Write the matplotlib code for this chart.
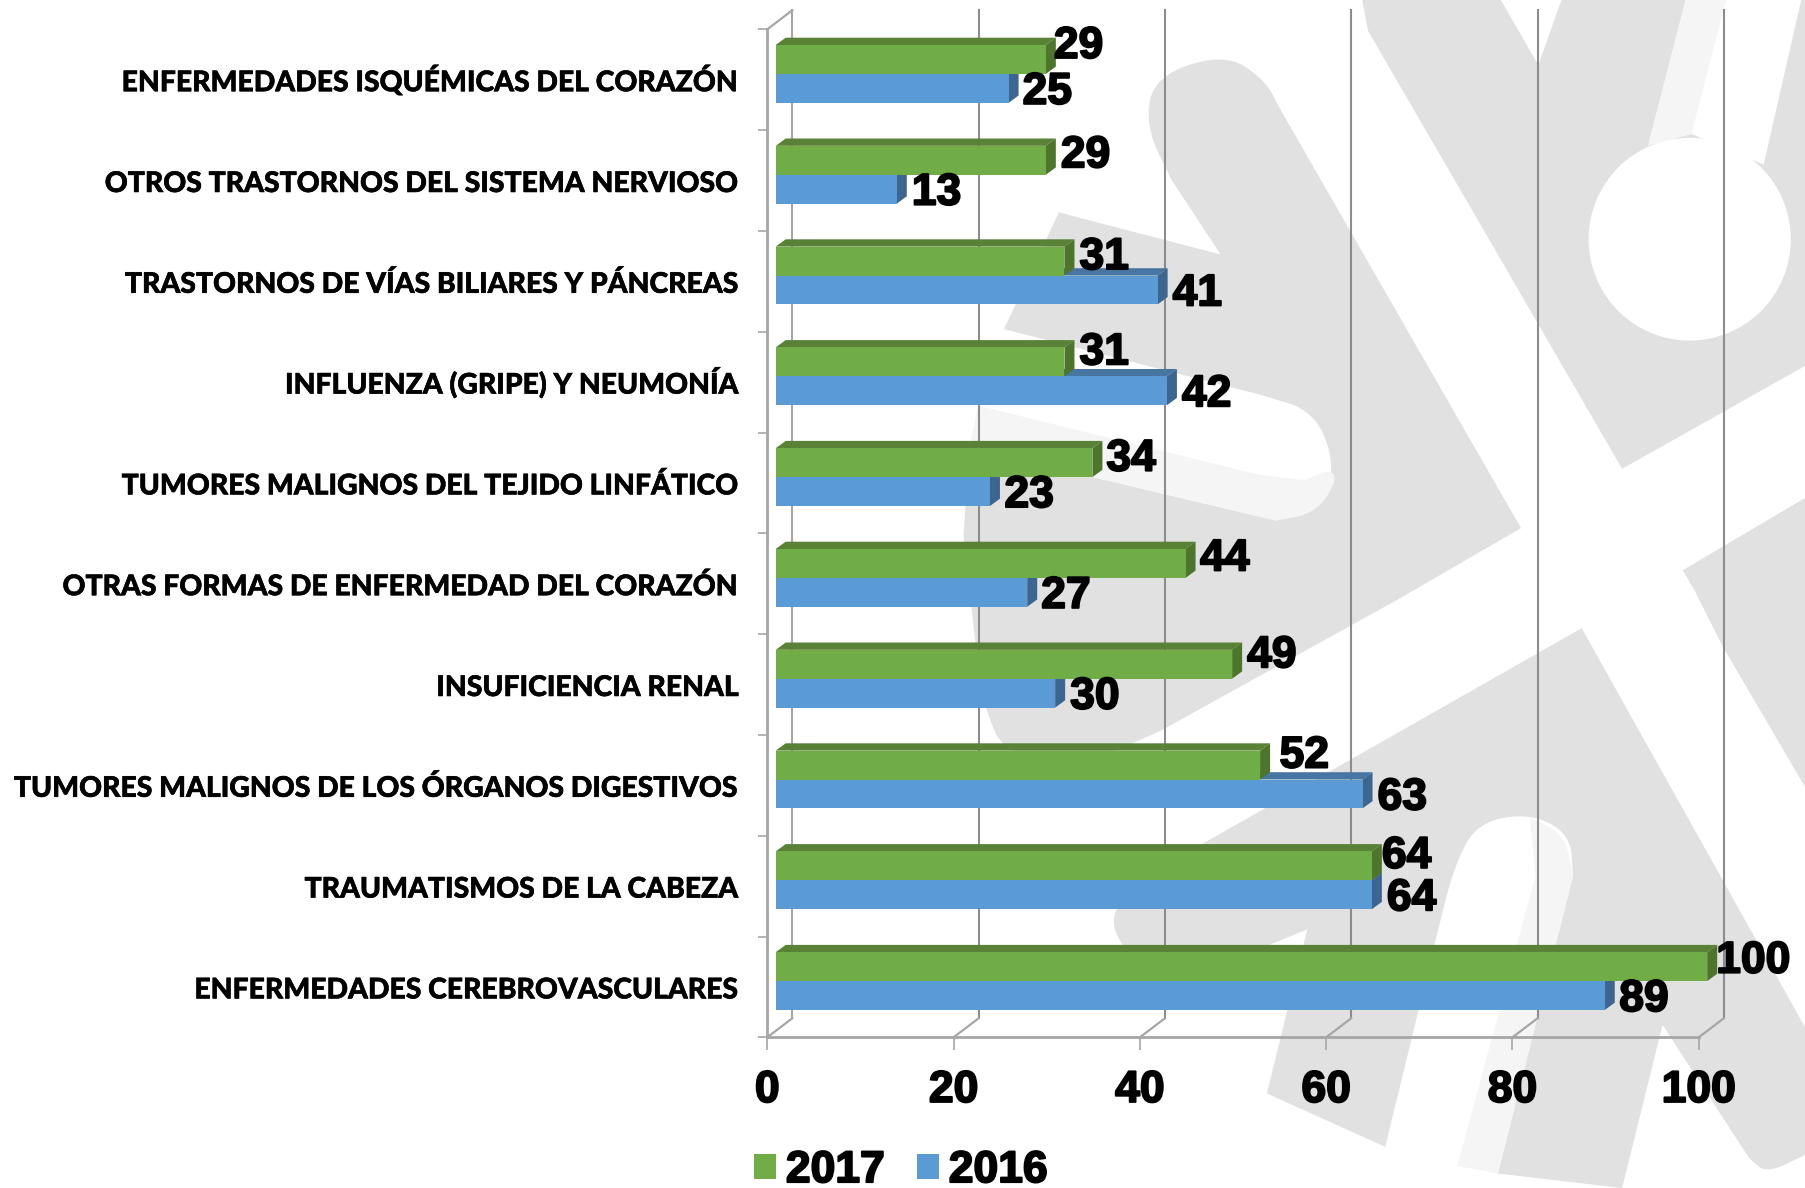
import matplotlib
matplotlib.use("Agg")
import matplotlib.pyplot as plt
import matplotlib.patheffects as pe
from matplotlib.patches import Polygon, Ellipse, Patch

# ---------- data ----------
categories = [
    "ENFERMEDADES ISQUÉMICAS DEL CORAZÓN",
    "OTROS TRASTORNOS DEL SISTEMA NERVIOSO",
    "TRASTORNOS DE VÍAS BILIARES Y PÁNCREAS",
    "INFLUENZA (GRIPE) Y NEUMONÍA",
    "TUMORES MALIGNOS DEL TEJIDO LINFÁTICO",
    "OTRAS FORMAS DE ENFERMEDAD DEL CORAZÓN",
    "INSUFICIENCIA RENAL",
    "TUMORES MALIGNOS DE LOS ÓRGANOS DIGESTIVOS",
    "TRAUMATISMOS DE LA CABEZA",
    "ENFERMEDADES CEREBROVASCULARES",
]
values_2017 = [29, 29, 31, 31, 34, 44, 49, 52, 64, 100]
values_2016 = [25, 13, 41, 42, 23, 27, 30, 63, 64, 89]
x_ticks = [0, 20, 40, 60, 80, 100]

# label nudges in pixels, from the bar end
dx_2017 = [8, 15, 15, 15, 14, 14.5, 15, 19.5, 10, 9]
dy_2017 = [-13, -4.5, -3.5, -9, -3.5, -4.5, -8.5, -9, -9.5, -5.5]
dx_2016 = [14, 15, 15, 15, 14.5, 14, 15, 15, 15, 14.5]
dy_2016 = [4] * 10

# ---------- style ----------
W, H = 1806, 1188
GREEN, GREEN_TOP, GREEN_SIDE = "#70AD47", "#5A8236", "#4E752C"
BLUE, BLUE_TOP, BLUE_SIDE = "#5B9BD5", "#4776A3", "#3C668F"
GRID, WALL = "#8C8C8C", "#A6A6A6"
WM, WM_LIGHT = "#E1E1E1", "#F5F5F5"

HEAVY = "Liberation Sans"
STROKE = [pe.withStroke(linewidth=1.4, foreground="black")]
NUM = dict(family=HEAVY, fontweight="bold", fontsize=32, color="black", path_effects=STROKE)

fig = plt.figure(figsize=(W / 100, H / 100), dpi=100, facecolor="white")

# ---------- background watermark, in pixel space ----------
bg = fig.add_axes([0, 0, 1, 1], zorder=0)
bg.set_xlim(0, W); bg.set_ylim(H, 0); bg.axis("off")

def a(pts):
    return [(900 + x * 0.5777, y * 0.3827) for x, y in pts]
def b(pts):
    return [(900 + x * 0.5777, 590 + y * 0.3814) for x, y in pts]
def smooth(pts, n=3):
    for _ in range(n):
        out = [pts[0]]
        for p, q in zip(pts[:-1], pts[1:]):
            out.append((0.75 * p[0] + 0.25 * q[0], 0.75 * p[1] + 0.25 * q[1]))
            out.append((0.25 * p[0] + 0.75 * q[0], 0.25 * p[1] + 0.75 * q[1]))
        out.append(pts[-1])
        pts = out
    return pts
def poly(pts, c):
    bg.add_patch(Polygon(pts, closed=True, facecolor=c, edgecolor="none"))

poly(a([(555, 665)]) +
     smooth(a([(470, 470), (425, 330), (440, 200), (560, 140), (630, 205), (660, 290)])) +
     a([(1075, 1380), (860, 1568)]) +
     smooth(b([(450, 370), (300, 470), (180, 430), (145, 300), (135, 200)])) +
     a([(110, 1400), (120, 1170), (180, 860), (275, 555)]), WM)
white_bar = smooth(a([(620, 1030), (720, 1075), (755, 1230), (720, 1340), (650, 1360)]))
poly(a([(180, 860)]) + white_bar + a([(120, 1170), (60, 1050)]), "white")
poly(a([(135, 1060), (620, 1240)]) + smooth(a([(700, 1255), (748, 1225), (755, 1260), (720, 1340), (650, 1360)])) +
     a([(120, 1170)]), WM_LIGHT)

poly(a([(800, 0), (1040, 0), (1105, 170), (1145, 0), (1360, 0), (1295, 380), (1370, 350), (1495, 430),
        (1560, 0), (1568, 0), (1568, 955), (1250, 1225), (810, 80)]), WM)
poly(a([(1360, 0), (1430, 0), (1370, 350), (1295, 380)]), WM_LIGHT)
cx, cy = a([(1367, 625)])[0]
bg.add_patch(Ellipse((cx, cy), 350 * 0.5777, 530 * 0.3827, facecolor="white", edgecolor="none"))

poly(a([(1355, 1490), (1568, 1300)]) + b([(1568, 520), (1425, 150), (1375, 0)]), WM)
poly(b([(1180, 100), (530, 660)]) + smooth(b([(410, 770), (360, 860), (395, 960), (440, 1000)])) +
     b([(640, 930), (705, 890), (635, 1320), (840, 1460)]) +
     smooth(b([(930, 900), (960, 720), (1000, 610), (1090, 585), (1160, 640), (1165, 750)])) +
     b([(1035, 1530), (1250, 1568), (1320, 1140)]) +
     smooth(b([(1470, 1490), (1500, 1530), (1568, 1480)])) +
     b([(1568, 1150)]), WM)
poly(smooth(b([(1090, 597), (1150, 640), (1165, 750)])) + b([(1035, 1530), (965, 1510), (1100, 750)]), WM_LIGHT)

# ---------- chart axes ----------
X0, PX_UNIT, Y_TOP, PX_CAT = 767.3, 9.315, 29.3, 100.8
ax = fig.add_axes([X0 / W, 1 - (Y_TOP + 10 * PX_CAT) / H, 100 * PX_UNIT / W, 10 * PX_CAT / H], zorder=1)
ax.patch.set_alpha(0)
ax.set_xlim(0, 100)
ax.set_ylim(10, 0)

back_dx, back_dy = 25 / PX_UNIT, 19 / PX_CAT
bar_dx, bar_dy = 10 / PX_UNIT, 7.3 / PX_CAT
bar_x0 = 8.4 / PX_UNIT
bar_h = 28.9 / PX_CAT
green_top_y = 15.7 / PX_CAT

# walls and grid
for t in x_ticks:
    col = WALL if t == 0 else GRID
    ax.plot([t + back_dx] * 2, [-back_dy, 10 - back_dy], color=col, lw=1.5, zorder=1, clip_on=False)
    ax.plot([t, t + back_dx], [10, 10 - back_dy], color=WALL, lw=1.6, zorder=1, clip_on=False)
ax.plot([0, back_dx], [0, -back_dy], color=WALL, lw=1.6, zorder=1, clip_on=False)

for s in ("top", "right"):
    ax.spines[s].set_visible(False)
for s in ("left", "bottom"):
    ax.spines[s].set_color(WALL)
    ax.spines[s].set_linewidth(2)
    ax.spines[s].set_zorder(1.5)

ax.set_xticks(x_ticks)
ax.set_xticklabels([str(t) for t in x_ticks], **NUM)
ax.tick_params(axis="x", length=9, width=1.2, color=WALL, pad=14.5)
ax.set_yticks(range(11))
ax.set_yticklabels([])
ax.tick_params(axis="y", which="major", length=6.5, width=1.2, color=WALL)
ax.set_yticks([i + 0.5 + 11.5 / PX_CAT for i in range(10)], minor=True)
ax.set_yticklabels(categories, minor=True, family="Lato", fontweight="black", fontsize=20.4, color="black",
                   va="baseline", path_effects=[pe.withStroke(linewidth=0.4, foreground="black")])
ax.tick_params(axis="y", which="minor", length=0, pad=20.9)

def bar3d(y, vals, front, top, side, z):
    ax.barh(y, vals, height=bar_h, left=bar_x0, align="edge", color=front, zorder=z + 0.2, linewidth=0, clip_on=False)
    for yi, v in zip(y, vals):
        x1 = bar_x0 + v
        ax.add_patch(Polygon([(bar_x0, yi), (bar_x0 + bar_dx, yi - bar_dy), (x1 + bar_dx, yi - bar_dy), (x1, yi)],
                             closed=True, facecolor=top, edgecolor="none", zorder=z, clip_on=False))
        ax.add_patch(Polygon([(x1, yi), (x1 + bar_dx, yi - bar_dy), (x1 + bar_dx, yi + bar_h - bar_dy), (x1, yi + bar_h)],
                             closed=True, facecolor=side, edgecolor="none", zorder=z, clip_on=False))

ys_2017 = [i + green_top_y for i in range(10)]
ys_2016 = [y + bar_h for y in ys_2017]
bar3d(ys_2016, values_2016, BLUE, BLUE_TOP, BLUE_SIDE, 2)
bar3d(ys_2017, values_2017, GREEN, GREEN_TOP, GREEN_SIDE, 3)

# value labels
to_pt = 0.72
for ys, vals, dxs, dys in ((ys_2017, values_2017, dx_2017, dy_2017), (ys_2016, values_2016, dx_2016, dy_2016)):
    for y, v, dx, dy in zip(ys, vals, dxs, dys):
        ax.annotate(str(v), xy=(bar_x0 + v, y + bar_h / 2), xytext=(dx * to_pt, -dy * to_pt),
                    textcoords="offset points", ha="left", va="center", zorder=5,
                    annotation_clip=False, **NUM)

# legend
handles = [Patch(facecolor=GREEN, label="2017"), Patch(facecolor=BLUE, label="2016")]
leg = fig.legend(handles=handles, loc="lower left", bbox_to_anchor=(745 / W, 1 - 1200 / H), ncol=2,
                 frameon=False, prop=dict(family=HEAVY, weight="bold", size=32),
                 handlelength=0.5, handleheight=0.5, handletextpad=0.22, columnspacing=0.72,
                 borderpad=0.2, borderaxespad=0)
for t in leg.get_texts():
    t.set_path_effects(STROKE)

fig.savefig("out.png", dpi=100)
